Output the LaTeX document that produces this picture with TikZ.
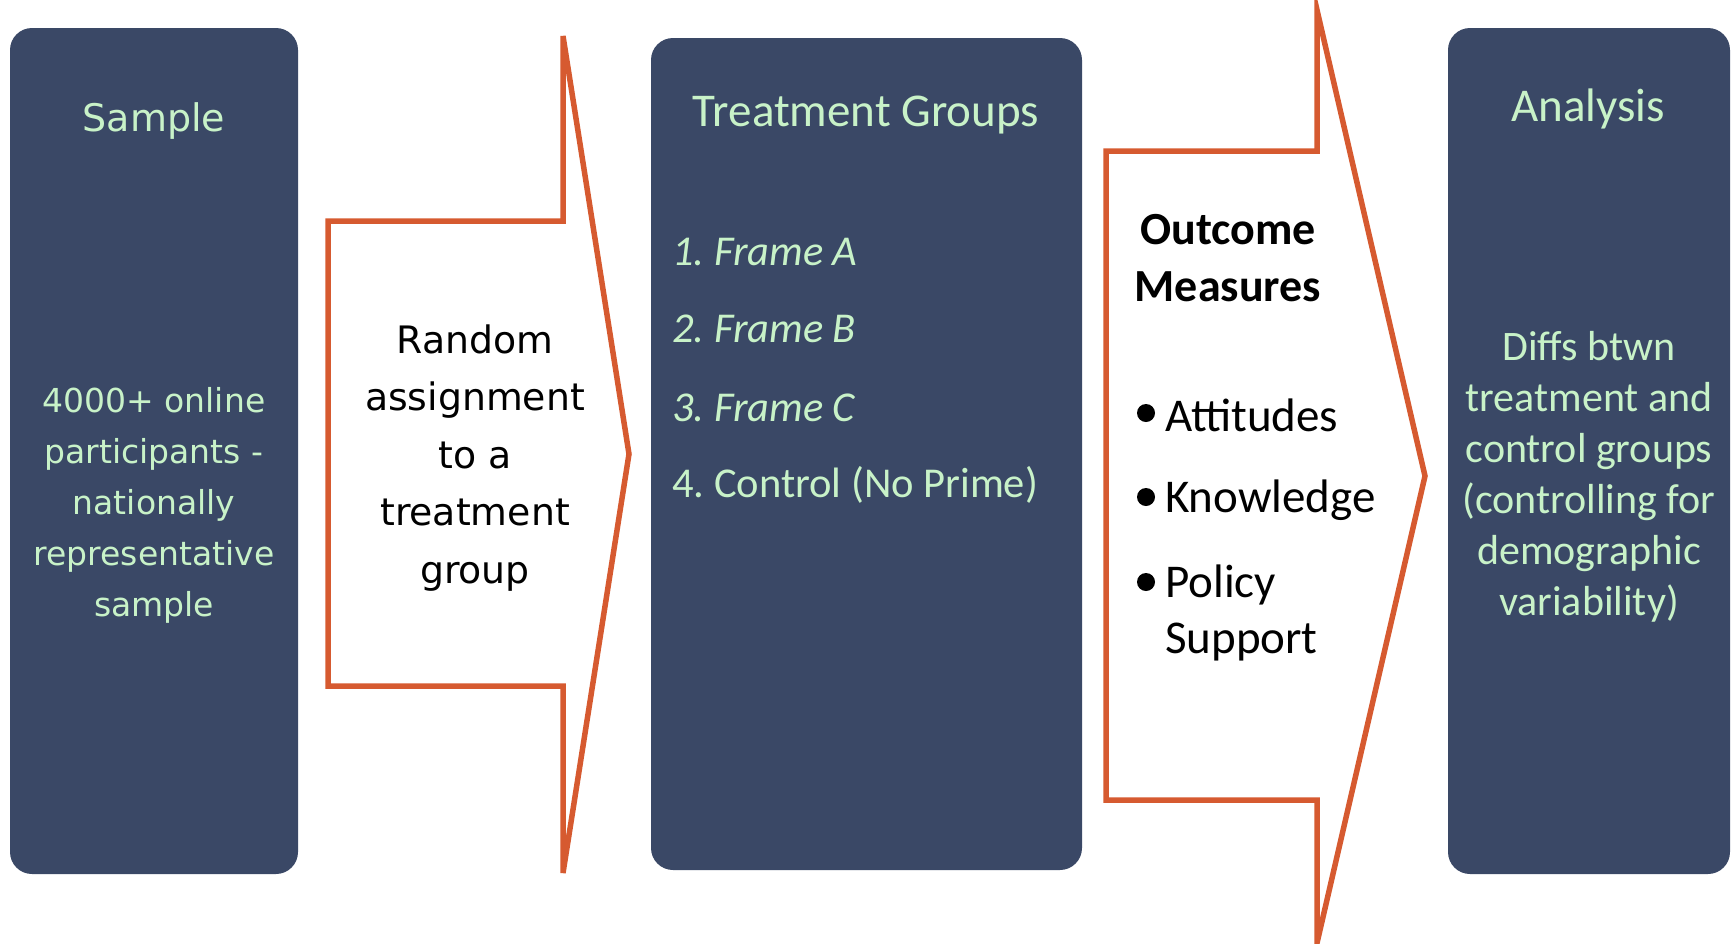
\documentclass[tikz,border=0pt]{standalone}
\usepackage{fontspec}
\setmainfont{Carlito}
\newfontfamily\vfont{DejaVu Sans}
\definecolor{boxfill}{HTML}{3A4866}
\definecolor{boxtext}{HTML}{C8F2C8}
\definecolor{arrowcol}{HTML}{D65A30}
\frenchspacing
\begin{document}
\begin{tikzpicture}[x=1pt,y=-1pt,
  box/.style={fill=boxfill, draw=none, rounded corners=22pt, inner sep=0pt},
  arrowshape/.style={draw=arrowcol, line width=5.5pt, fill=white, line join=miter},
  lbl/.style={text=boxtext, inner sep=0pt, align=center},
  blk/.style={text=black, inner sep=0pt, align=center}]
\useasboundingbox (0,0) rectangle (1733,943);
% boxes
\node[box, minimum width=288pt, minimum height=846pt] (sample) at (154,451) {};
\node[box, minimum width=431pt, minimum height=832pt] (treat) at (866.5,454) {};
\node[box, minimum width=282pt, minimum height=846pt] (analysis) at (1589,451) {};
% arrows
\draw[arrowshape] (328,221) -- (563,221) -- (563,36) -- (629,454) -- (563,873) -- (563,686) -- (328,686) -- cycle;
\draw[arrowshape] (1106,151) -- (1317,151) -- (1317,10) -- (1425,476) -- (1317,943) -- (1317,800) -- (1106,800) -- cycle;
% sample texts
\node[lbl, font=\vfont\fontsize{38}{46}\selectfont] (sampletitle) at (154,121) {Sample};
\node[lbl, font=\vfont\fontsize{33}{51}\selectfont] (samplebody) at (154,505) {4000+ online\\participants -\\nationally\\representative\\sample};
% random assignment
\node[blk, font=\vfont\fontsize{37.8}{57.5}\selectfont] (random) at (475,458) {Random\\assignment\\to a\\treatment\\group};
% treatment
\node[lbl, font=\fontsize{47}{57}\selectfont] (treattitle) at (866,115) {Treatment Groups};
\begin{scope}[every node/.style={lbl, anchor=west, font=\fontsize{42.5}{51}\selectfont}]
\node (fa) at (672,252) {\itshape 1. Frame A};
\node (fb) at (672,329) {\itshape 2. Frame B};
\node (fc) at (672,408) {\itshape 3. Frame C};
\node (ctrl) at (672,485) {4. Control (No Prime)};
\end{scope}
% outcome
\node[blk, font=\bfseries\fontsize{46}{57}\selectfont] (outcome) at (1228,258) {Outcome\\Measures};
\begin{scope}[every node/.style={blk, anchor=west, font=\fontsize{47}{57}\selectfont}]
\node (att) at (1165,415) {Attitudes};
\node (know) at (1165,500) {Knowledge};
\node (pol) at (1165,585) {Policy};
\node (sup) at (1165,642) {Support};
\end{scope}
\fill (1146,413) circle (9pt);
\fill (1146,497) circle (9pt);
\fill (1146,582) circle (9pt);
% analysis
\node[lbl, font=\fontsize{47}{57}\selectfont] (anatitle) at (1588,109) {Analysis};
\node[lbl, font=\fontsize{42}{51}\selectfont] (anabody) at (1589,477) {Diffs btwn\\treatment and\\control groups\\(controlling for\\demographic\\variability)};
\end{tikzpicture}
\end{document}
